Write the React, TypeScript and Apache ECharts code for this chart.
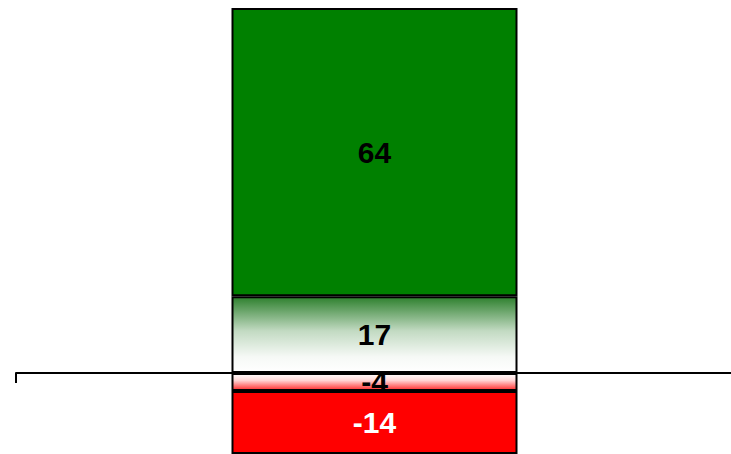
import React, { useEffect, useRef } from "react";
import * as echarts from "echarts";

const categories = [""];
const positiveLow = [17];
const positiveHigh = [64];
const negativeNear = [-4];
const negativeFar = [-14];

export default function App() {
  const ref = useRef<HTMLDivElement>(null);
  useEffect(() => {
    if (!ref.current) return;
    const chart = echarts.init(ref.current, null, { renderer: "svg" });
    const labelBase = {
      show: true,
      position: "inside",
      fontFamily: "Arial, 'Liberation Sans', sans-serif",
      fontWeight: "bold",
      fontSize: 30,
      color: "#000",
    };
    const border = { borderColor: "#000", borderWidth: 2 };
    chart.setOption({
      animation: false,
      grid: {
        left: 16,
        right: -2,
        top: 8,
        bottom: 0,
        containLabel: false,
        outerBoundsMode: "none",
      },
      xAxis: {
        type: "category",
        data: categories,
        axisLine: { show: true, lineStyle: { color: "#000", width: 2 } },
        axisTick: { show: true, length: 10, lineStyle: { color: "#000", width: 2 } },
        axisLabel: { show: false },
        z: 5,
      },
      yAxis: {
        type: "value",
        min: -18,
        max: 81,
        show: false,
        splitLine: { show: false },
      },
      series: [
        {
          type: "bar",
          stack: "total",
          barWidth: 286,
          data: positiveLow,
          itemStyle: {
            ...border,
            color: {
              type: "linear",
              x: 0,
              y: 0,
              x2: 0,
              y2: 1,
              colorStops: [
                { offset: 0, color: "#2f812f" },
                { offset: 0.45, color: "#c2dac2" },
                { offset: 0.8, color: "#f6f9f6" },
                { offset: 1, color: "#ffffff" },
              ],
            },
          },
          label: labelBase,
        },
        {
          type: "bar",
          stack: "total",
          barWidth: 286,
          data: positiveHigh,
          itemStyle: { ...border, color: "#008000" },
          label: labelBase,
        },
        {
          type: "bar",
          stack: "total",
          barWidth: 286,
          data: negativeNear,
          itemStyle: {
            ...border,
            color: {
              type: "linear",
              x: 0,
              y: 0,
              x2: 0,
              y2: 1,
              colorStops: [
                { offset: 0, color: "#ffffff" },
                { offset: 0.4, color: "#ffd6d6" },
                { offset: 1, color: "#ff3030" },
              ],
            },
          },
          label: labelBase,
        },
        {
          type: "bar",
          stack: "total",
          barWidth: 286,
          data: negativeFar,
          itemStyle: { ...border, color: "#ff0000" },
          label: { ...labelBase, color: "#fff" },
        },
      ],
    });
    return () => chart.dispose();
  }, []);
  return (
    <div
      ref={ref}
      style={{ position: "absolute", left: 0, top: 0, width: 731, height: 454 }}
    />
  );
}
